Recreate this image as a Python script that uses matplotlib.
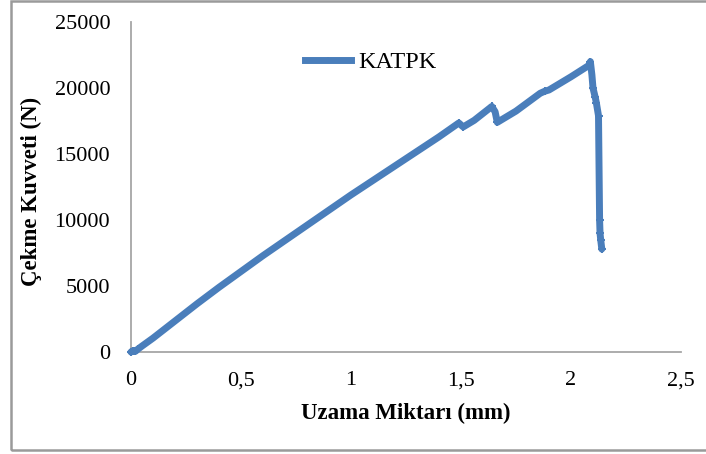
import matplotlib
matplotlib.use("Agg")
import matplotlib.pyplot as plt
from matplotlib.patches import Rectangle
from matplotlib.lines import Line2D

# Data (elongation mm, force N)
uzama = [0.0, 0.01, 0.02, 0.03, 0.05, 0.10, 0.20, 0.30, 0.40, 0.50, 0.60, 0.70,
         0.80, 0.90, 1.00, 1.10, 1.20, 1.30, 1.40, 1.49, 1.51, 1.56, 1.64,
         1.655, 1.665, 1.75, 1.86, 1.88, 1.90, 2.00, 2.08, 2.088, 2.095, 2.10,
         2.11, 2.115, 2.125, 2.13, 2.132, 2.135, 2.14]
kuvvet = [0, 100, 50, 200, 450, 1050, 2350, 3650, 4900, 6100, 7300, 8450,
          9600, 10750, 11900, 13000, 14100, 15200, 16300, 17350, 17050, 17550, 18600,
          18200, 17400, 18250, 19600, 19750, 19850, 20850, 21700, 22000, 21000, 20000,
          19300, 18900, 17900, 10000, 9000, 8500, 7800]
marker_idx = [0, 1, 2, 3, 19, 20, 22, 24, 27, 31, 33, 34, 35, 36, 37, 38, 39, 40]

xticks = [0, 0.5, 1, 1.5, 2, 2.5]
xticklabels = ["0", "0,5", "1", "1,5", "2", "2,5"]
yticks = [0, 5000, 10000, 15000, 20000, 25000]

W, H = 706, 454
fig = plt.figure(figsize=(W / 100, H / 100), dpi=100)
plt.rcParams['font.family'] = ['Liberation Serif', 'DejaVu Serif']

ax = fig.add_axes([131 / W, 1 - 352 / H, (681 - 131) / W, (352 - 22) / H])

color = "#4a7ebb"
ax.plot(uzama, kuvvet, color=color, lw=5, solid_capstyle='round',
        solid_joinstyle='round', marker='+', markersize=6, mew=1.5,
        markevery=marker_idx, zorder=3, clip_on=False)

ax.set_xlim(0, 2.5)
ax.set_ylim(0, 25000)
ax.set_xticks(xticks)
ax.set_xticklabels(xticklabels)
ax.set_yticks(yticks)
ax.set_yticklabels([str(v) for v in yticks])
ax.tick_params(axis='both', length=0, labelsize=16, colors='black')
ax.tick_params(axis='x', pad=14)
ax.tick_params(axis='y', pad=15)
for s in ['top', 'right']:
    ax.spines[s].set_visible(False)
for s in ['left', 'bottom']:
    ax.spines[s].set_color('#a6a6a6')
    ax.spines[s].set_linewidth(1.3)

fig.text(406 / W, 1 - 413 / H, "Uzama Miktarı (mm)", ha='center', va='center',
         fontsize=16.5, fontweight='bold')
fig.text(31 / W, 1 - 191 / H, "Çekme Kuvveti (N)", ha='center', va='center',
         rotation=90, fontsize=16.5, fontweight='bold')

# legend
handle = Line2D([], [], color=color, lw=5, marker='|', markersize=5, mew=1.2)
leg = ax.legend([handle], ["KATPK"], loc='center left',
                bbox_to_anchor=((305 - 131) / (681 - 131), (352 - 62) / (352 - 22)),
                frameon=False, fontsize=17.5, handlelength=1.9, handletextpad=0.3,
                borderpad=0, borderaxespad=0)

# outer frame
fig.patches.append(Rectangle((10.5 / W, 1 - 450 / H), 0.99, 449 / H,
                             transform=fig.transFigure, fill=False,
                             edgecolor='#9a9a9a', lw=1.8))

fig.savefig("out.png", dpi=100)
